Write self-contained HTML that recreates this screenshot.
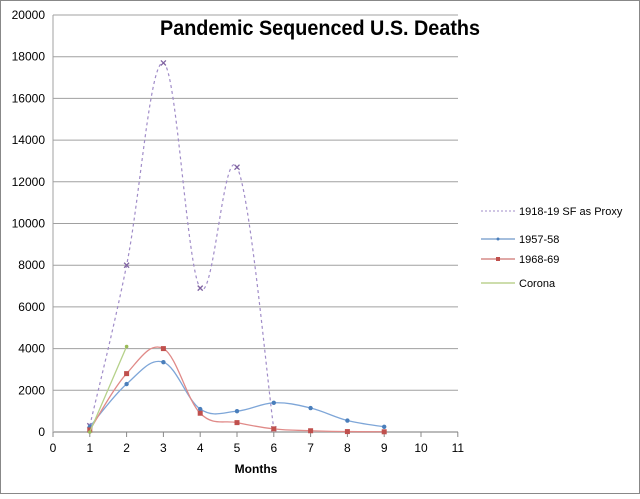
<!DOCTYPE html>
<html><head><style>
body{margin:0;background:#fff}
svg text{font-family:"Liberation Sans",sans-serif}
</style></head><body>
<svg id="s" width="640" height="494" xmlns="http://www.w3.org/2000/svg">
<rect x="0.5" y="0.5" width="639" height="493" fill="#fff" stroke="#888"/>
<text x="160" y="35" font-size="21" font-weight="bold" fill="#000" textLength="320" lengthAdjust="spacingAndGlyphs">Pandemic Sequenced U.S. Deaths</text>
<g id="grid"></g>
<g id="series"></g>
<g font-size="12" fill="#000">
<line x1="481" y1="211" x2="515" y2="211" stroke="#a08cc8" stroke-dasharray="2,2"/><text x="519" y="215" font-size="11">1918-19 SF as Proxy</text>
<line x1="481" y1="239" x2="515" y2="239" stroke="#4a7ebb"/><circle cx="498" cy="239" r="1.5" fill="#4a7ebb"/><text x="519" y="243" font-size="11">1957-58</text>
<line x1="481" y1="259" x2="515" y2="259" stroke="#c0504d"/><rect x="496" y="257" width="4" height="4" fill="#c0504d"/><text x="519" y="263" font-size="11">1968-69</text>
<line x1="481" y1="283" x2="515" y2="283" stroke="#9bbb59"/><text x="519" y="287" font-size="11">Corona</text>
</g>
<text x="256" y="473" text-anchor="middle" font-size="12" font-weight="bold">Months</text>
</svg>
<script>
var X=function(v){return 53+v*36.8},Y=function(v){return 432-v*0.02085};
var g='';
for(var i=1;i<=10;i++){var y=Y(i*2000);g+='<line x1="53" y1="'+y+'" x2="458" y2="'+y+'" stroke="#a0a0a0"/>';}
for(var i=0;i<=10;i++){var y=Y(i*2000);g+='<text x="45" y="'+(y+4)+'" text-anchor="end" font-size="12">'+(i*2000)+'</text>';}
g+='<line x1="53" y1="15" x2="53" y2="432" stroke="#a0a0a0"/><line x1="53" y1="432" x2="458" y2="432" stroke="#bbb" stroke-width="2"/>';
for(var i=0;i<=11;i++){var x=X(i);g+='<line x1="'+x+'" y1="432" x2="'+x+'" y2="437" stroke="#888"/><text x="'+x+'" y="452" text-anchor="middle" font-size="12">'+i+'</text>';}
document.getElementById('grid').innerHTML=g;
function path(d,t){var p=d.map(function(a){return[X(a[0]),Y(a[1])]});var s='M'+p[0][0]+','+p[0][1];
for(var i=0;i<p.length-1;i++){var p0=p[i-1]||p[i],p1=p[i],p2=p[i+1],p3=p[i+2]||p2;
var c1=[p1[0]+(p2[0]-p0[0])*t,p1[1]+(p2[1]-p0[1])*t],c2=[p2[0]-(p3[0]-p1[0])*t,p2[1]-(p3[1]-p1[1])*t];
s+=' C'+c1+' '+c2+' '+p2;}return s;}
var A=[[1,300],[2,8000],[3,17700],[4,6900],[5,12700],[6,150]];
var B=[[1,250],[2,2300],[3,3350],[4,1100],[5,1000],[6,1400],[7,1150],[8,550],[9,250]];
var C=[[1,100],[2,2800],[3,4000],[4,900],[5,450],[6,150],[7,60],[8,20],[9,10]];
var D=[[1,0],[2,4100]];
var h='';
h+='<path d="'+path(A,0.18)+'" fill="none" stroke="#a08cc8" stroke-width="1.2" stroke-dasharray="3,3"/>';
A.forEach(function(a){var x=X(a[0]),y=Y(a[1]);h+='<path d="M'+(x-2.5)+','+(y-2.5)+'l5,5m0,-5l-5,5" stroke="#8064a2" stroke-width="1.3"/>';});
h+='<path d="'+path(B,0.18)+'" fill="none" stroke="#7ea6d8" stroke-width="1.3"/>';
B.forEach(function(a){h+='<circle cx="'+X(a[0])+'" cy="'+Y(a[1])+'" r="2.2" fill="#4a7ebb"/>';});
h+='<path d="'+path(C,0.18)+'" fill="none" stroke="#e08a88" stroke-width="1.3"/>';
C.forEach(function(a){h+='<rect x="'+(X(a[0])-2.5)+'" y="'+(Y(a[1])-2.5)+'" width="5" height="5" fill="#c0504d"/>';});
h+='<path d="'+path(D,0.18)+'" fill="none" stroke="#b5d18a" stroke-width="1.3"/>';
D.forEach(function(a){h+='<circle cx="'+X(a[0])+'" cy="'+Y(a[1])+'" r="1.8" fill="#9bbb59"/>';});
document.getElementById('series').innerHTML=h;
</script>
</body></html>
